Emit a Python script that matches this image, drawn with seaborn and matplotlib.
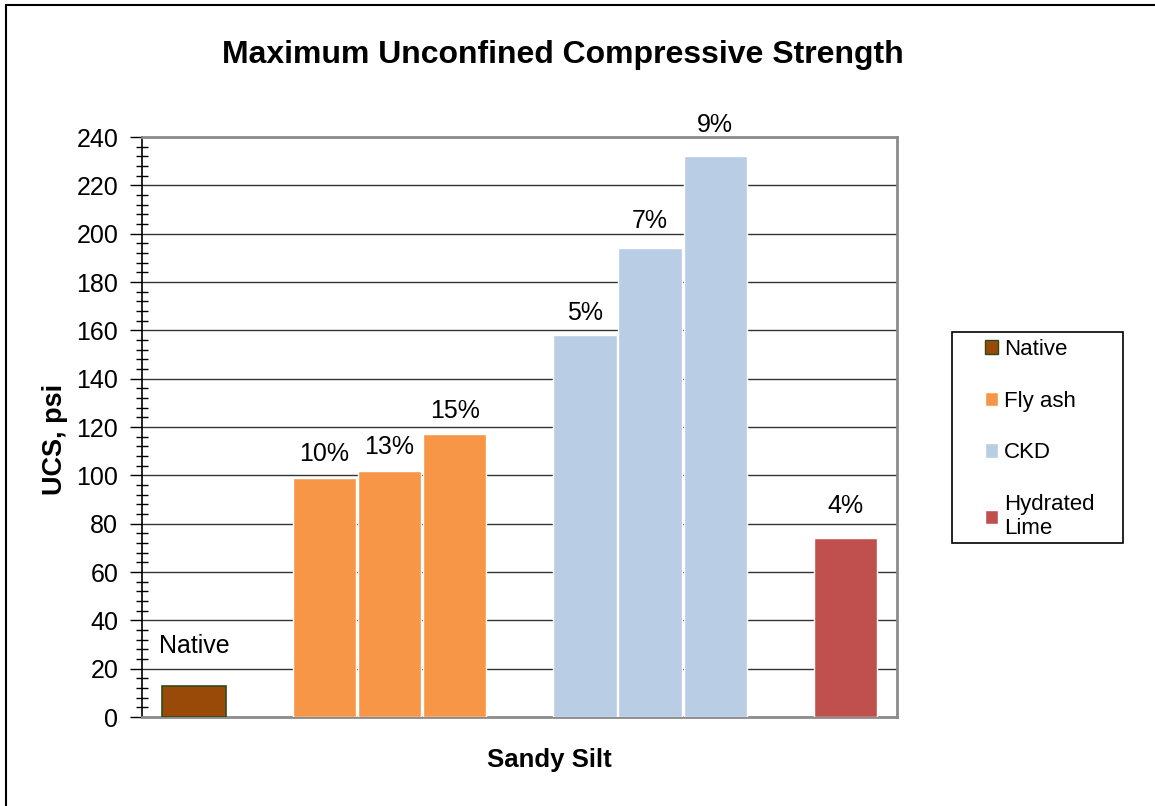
import pandas as pd
import numpy as np
import matplotlib
matplotlib.use("Agg")
import matplotlib.pyplot as plt
import matplotlib.patches as mpatches
from matplotlib.lines import Line2D
from matplotlib.ticker import MultipleLocator
import seaborn as sns

# ---- Data ----
slots = ["Native", "_gap1", "10%", "13%", "15%", "_gap2", "5%", "7%", "9%", "_gap3", "4%"]
bar_slots = ["Native", "10%", "13%", "15%", "5%", "7%", "9%", "4%"]
materials = ["Native", "Fly ash", "Fly ash", "Fly ash", "CKD", "CKD", "CKD", "Hydrated Lime"]
ucs = [13, 99, 102, 117, 158, 194, 232, 74]
legend_labels = ["Native", "Fly ash", "CKD", "Hydrated\nLime"]

# label gaps above bars (pixels), as placed by hand in the original
label_gap_px = [33, 17, 17, 16, 15, 20, 24, 25]

palette = {
    "Native": "#9A4A08",
    "Fly ash": "#F79646",
    "CKD": "#B9CDE5",
    "Hydrated Lime": "#C0504D",
}

df = pd.DataFrame({"slot": bar_slots, "material": materials, "ucs": ucs})

# ---- Plot ----
sns.set_style("white")
plt.rcParams["font.family"] = ["Liberation Sans", "DejaVu Sans"]
plt.rcParams["text.color"] = "black"
plt.rcParams["axes.labelcolor"] = "black"
plt.rcParams["ytick.color"] = "black"

fig = plt.figure(figsize=(11.55, 8.06), dpi=100)
ax = fig.add_axes([0.1229, 0.1104, 0.6537, 0.7196])

sns.barplot(data=df, x="slot", y="ucs", hue="material", order=slots,
            palette=palette, dodge=False, width=0.97, legend=False,
            saturation=1, ax=ax, zorder=3)

# dark edge on the native bar only
for p in ax.patches:
    if np.allclose(p.get_facecolor()[:3], matplotlib.colors.to_rgb(palette["Native"])):
        p.set_edgecolor("#2E4A1E")
        p.set_linewidth(1.2)

# bar labels
for s, v, g in zip(bar_slots, ucs, label_gap_px):
    i = slots.index(s)
    ax.annotate(s, (i, v), xytext=(0, g * 0.72), textcoords="offset points",
                ha="center", va="baseline", fontsize=18)

ax.set_xlim(-0.8, 10.79)
ax.set_ylim(0, 240)
ax.yaxis.set_major_locator(MultipleLocator(20))
ax.yaxis.set_minor_locator(MultipleLocator(4))
ax.tick_params(axis="y", which="major", direction="out", length=9, width=1,
               labelsize=18, color="black", pad=8, left=True)
ax.tick_params(axis="y", which="minor", direction="inout", length=9, width=1,
               color="black", left=True)
ax.set_xticks([])
ax.grid(axis="y", which="major", color="#333333", linewidth=1, zorder=0)
ax.set_axisbelow(True)

for side in ["top", "right", "bottom"]:
    ax.spines[side].set_visible(True)
    ax.spines[side].set_color("#8c8c8c")
    ax.spines[side].set_linewidth(2)
ax.spines["left"].set_color("black")
ax.spines["left"].set_linewidth(1.2)

ax.set_xlabel("Sandy Silt", fontsize=18.5, fontweight="bold")
ax.xaxis.set_label_coords(0.539, -0.053)
ax.set_ylabel("UCS, psi", fontsize=19.5, fontweight="bold")
ax.yaxis.set_label_coords(-0.098, 0.478)

fig.text(0.487, 0.932, "Maximum Unconfined Compressive Strength",
         ha="center", va="center", fontsize=23, fontweight="bold")

# legend, frame drawn separately to match the wide padding of the original
handles = [mpatches.Patch(facecolor=palette["Native"], edgecolor="#2E4A1E"),
           mpatches.Patch(facecolor=palette["Fly ash"]),
           mpatches.Patch(facecolor=palette["CKD"]),
           mpatches.Patch(facecolor=palette["Hydrated Lime"])]
fig.legend(handles, legend_labels, loc="upper left",
           bbox_to_anchor=(0.8528, 0.5794), fontsize=16, frameon=False,
           handlelength=0.6, handleheight=0.6, handletextpad=0.25,
           labelspacing=1.38, borderpad=0, borderaxespad=0)
fig.patches.append(mpatches.Rectangle((952 / 1155, 1 - 543 / 806),
                                      171 / 1155, 211 / 806,
                                      transform=fig.transFigure, fill=False,
                                      edgecolor="black", linewidth=1.2))

# outer border (left and top only visible)
fig.add_artist(Line2D([0.005, 0.005], [0, 0.994], transform=fig.transFigure,
                      color="black", linewidth=1.5))
fig.add_artist(Line2D([0.005, 1], [0.994, 0.994], transform=fig.transFigure,
                      color="black", linewidth=1.5))

plt.savefig("out.png", dpi=100)
